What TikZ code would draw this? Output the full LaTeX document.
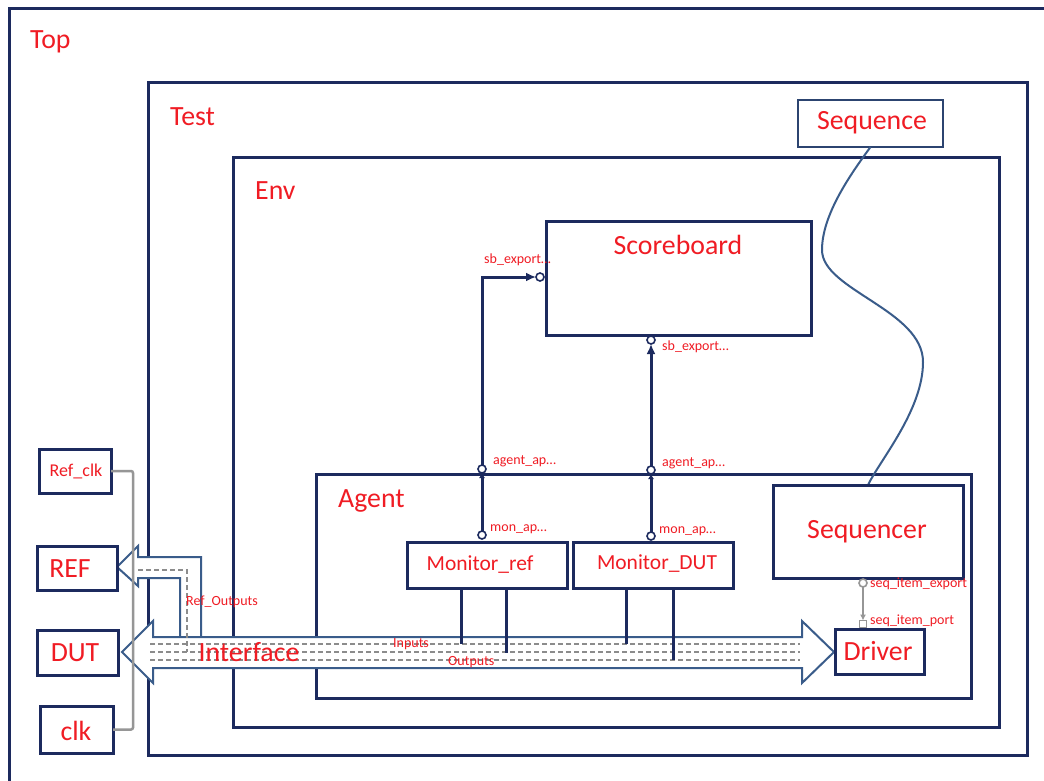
\documentclass[tikz,border=0pt]{standalone}
\usepackage{fontspec}
\setmainfont{Carlito}
\usetikzlibrary{arrows.meta}
\definecolor{navy}{RGB}{28,42,94}
\definecolor{txtred}{RGB}{240,28,36}
\definecolor{steel}{RGB}{58,92,138}
\definecolor{seqblue}{RGB}{44,68,112}
\definecolor{wire}{RGB}{150,150,150}
\definecolor{dashgray}{RGB}{140,140,140}
\tikzset{
  box/.style={draw=navy, line width=3pt, fill=white, inner sep=0pt, outer sep=0pt, anchor=north west},
  big/.style={text=txtred, font=\fontsize{27.8}{30}\selectfont, inner sep=0pt},
  mid/.style={text=txtred, font=\fontsize{21.5}{24}\selectfont, inner sep=0pt},
  lbl/.style={text=txtred, font=\fontsize{18}{20}\selectfont, inner sep=0pt},
  small/.style={text=txtred, font=\fontsize{14}{16}\selectfont, inner sep=0pt},
  port/.style={circle, draw=navy, line width=1.6pt, fill=white, minimum size=8pt, inner sep=0pt, outer sep=0pt},
  sqport/.style={rectangle, draw=wire, line width=1.6pt, fill=white, minimum size=7pt, inner sep=0pt, outer sep=0pt},
  link/.style={draw=navy, line width=3pt},
  wireline/.style={draw=wire, line width=2.5pt},
  busarrow/.style={draw=steel, line width=2pt, fill=white, line join=miter},
  busdash/.style={draw=dashgray, line width=1.5pt, dash pattern=on 5pt off 3pt},
}
\begin{document}
\begin{tikzpicture}[x=1pt,y=-1pt]
\useasboundingbox (0,0) rectangle (1044,780);
\clip (0,0) rectangle (1044,780);
\fill[white] (0,0) rectangle (1044,780);

% containers
\node[box, minimum width=1100, minimum height=800] (top) at (9,8) {};
\node[big, anchor=base west] (toplbl) at (30,48) {Top};
\node[box, minimum width=879, minimum height=673] (test) at (148,82) {};
\node[big, anchor=base west] (testlbl) at (170,125) {Test};
\node[box, draw=seqblue, line width=2pt, minimum width=145, minimum height=47] (seq) at (798,100) {};
\node[big, anchor=base] (seqtxt) at (872,129) {Sequence};
\node[box, minimum width=766, minimum height=570] (env) at (233,157) {};
\node[big, anchor=base west] (envlbl) at (255,199) {Env};
\node[box, minimum width=265, minimum height=114] (sb) at (546,221) {};
\node[big, anchor=base] (sbtxt) at (678,254) {Scoreboard};
\node[box, minimum width=655, minimum height=224] (agent) at (316,474) {};
\node[big, anchor=base west] (agentlbl) at (338,507) {Agent};

% sequence link
\draw[steel, line width=2pt] (seq.south) .. controls (850,175) and (822,215) .. (822,250)
  .. controls (822,290) and (923,310) .. (923,362)
  .. controls (923,410) and (880,460) .. (868,485);

\node[box, minimum width=190, minimum height=93] (sqr) at (773,485) {};
\node[big, anchor=base] (sqrtxt) at (867,538) {Sequencer};
\node[box, minimum width=160, minimum height=46] (mref) at (407,542) {};
\node[mid, anchor=base] (mreftxt) at (480,570) {Monitor\_ref};
\node[box, minimum width=160, minimum height=46] (mdut) at (573,542) {};
\node[mid, anchor=base] (mduttxt) at (657,569) {Monitor\_DUT};

% analysis ports
\node[port] (mrp) at (482,535) {};
\node[port] (ap1) at (482,469) {};
\node[port] (sbp1) at (540,277) {};
\node[port] (mdp) at (651,536) {};
\node[port] (ap2) at (651,470) {};
\node[port] (sbp2) at (651,340) {};
\draw[link, -{Latex[length=5pt,width=6pt]}] (mrp) -- (ap1);
\draw[link, -{Latex[length=10pt,width=9pt]}] (ap1) |- (sbp1);
\draw[link, -{Latex[length=5pt,width=6pt]}] (mdp) -- (ap2);
\draw[link, -{Latex[length=10pt,width=9pt]}] (ap2) -- (sbp2);

\node[small, anchor=east] (sbl1) at (551,260) {sb\_export…};
\node[small, anchor=west] (sbl2) at (662,347) {sb\_export…};
\node[small, anchor=west] (agl1) at (493,461) {agent\_ap…};
\node[small, anchor=west] (agl2) at (662,463) {agent\_ap…};
\node[small, anchor=west] (mnl1) at (490,529) {mon\_ap…};
\node[small, anchor=west] (mnl2) at (659,531) {mon\_ap…};

% interface arrows
\draw[busarrow] (180,637) -- (180,578) -- (138,578) -- (138,586) -- (117,567) -- (138,546) -- (138,557) -- (201,557) -- (201,637);
\draw[busarrow] (122,652) -- (153,621) -- (153,637) -- (802,637) -- (802,621) -- (834,652) -- (802,683) -- (802,668) -- (153,668) -- (153,683) -- cycle;
\draw[busdash] (150,644) -- (800,644);
\draw[busdash] (150,652) -- (800,652);
\draw[busdash] (150,660) -- (800,660);
\draw[busdash] (138,570) -- (187,570) -- (187,652);

% monitor stems to interface
\coordinate (in1) at (461,644);
\coordinate (out1) at (506,653);
\coordinate (in2) at (626,644);
\coordinate (out2) at (673,660);
\draw[link] (in1 |- mref.south) -- (in1);
\draw[link] (out1 |- mref.south) -- (out1);
\draw[link] (in2 |- mdut.south) -- (in2);
\draw[link] (out2 |- mdut.south) -- (out2);

\node[small, anchor=west] (inl) at (393,644) {Inputs};
\node[small, anchor=west] (outl) at (448,662) {Outputs};
\node[small, anchor=west] (refol) at (186,602) {Ref\_Outputs};
\node[big, anchor=base] (iftxt) at (249,661) {Interface};

% driver and sequencer ports
\node[box, minimum width=89, minimum height=45] (drv) at (835,629) {};
\node[big, anchor=base] (drvtxt) at (878,660) {Driver};
\node[port, draw=wire] (sqe) at (863,583) {};
\node[sqport] (sqp) at (863,624) {};
\draw[wireline, line width=2pt, -{Latex[length=6pt,width=6pt]}] (sqe) -- (sqp);
\node[small, anchor=west] (sqel) at (870,584) {seq\_item\_export};
\node[small, anchor=west] (sqpl) at (870,621) {seq\_item\_port};

% left side boxes
\node[box, minimum width=72, minimum height=44] (rclk) at (39,449) {};
\node[lbl, anchor=base] (rclktxt) at (76,476) {Ref\_clk};
\node[box, minimum width=80, minimum height=44] (ref) at (37,546) {};
\node[big, anchor=base] (reftxt) at (70,577) {REF};
\node[box, minimum width=81, minimum height=45] (dut) at (37,630) {};
\node[big, anchor=base] (duttxt) at (75,661) {DUT};
\node[box, minimum width=73, minimum height=47] (clk) at (40,706) {};
\node[big, anchor=base] (clktxt) at (76,740) {clk};

% clock wire
\draw[wireline, rounded corners=2pt] (rclk.east) -- ++(22,0) |- (clk.east);
\end{tikzpicture}
\end{document}
